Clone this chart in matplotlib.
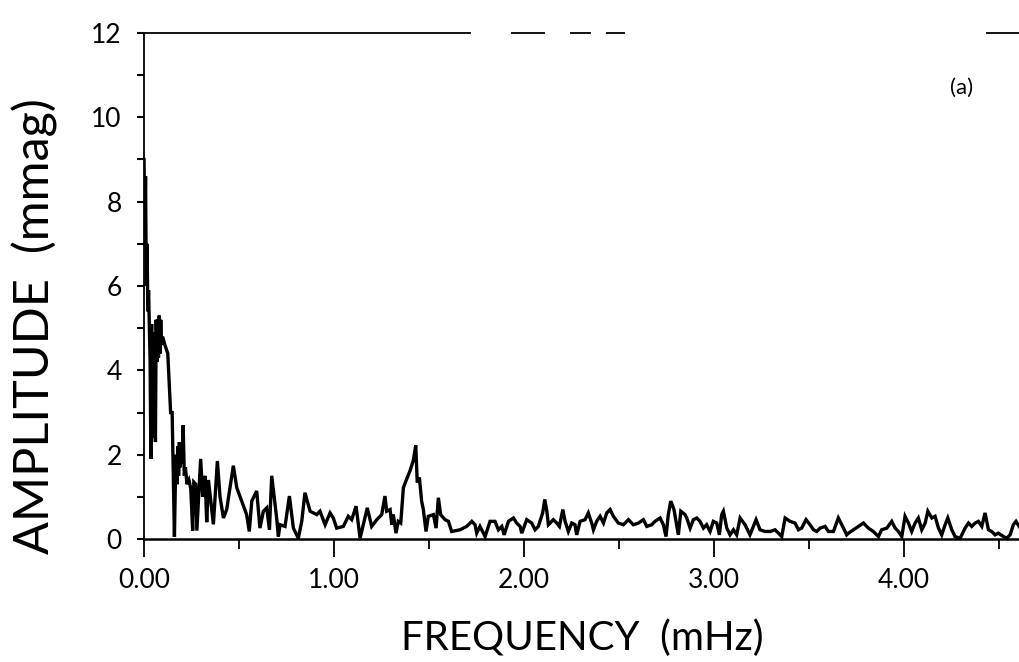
import matplotlib
matplotlib.use("Agg")
import matplotlib.pyplot as plt
from matplotlib.ticker import MultipleLocator, FormatStrFormatter

# Amplitude spectrum: frequency (mHz) and amplitude (mmag) of the trace
freq = [
    0.000, 0.004, 0.008, 0.012, 0.016, 0.020, 0.024, 0.028, 0.032, 0.036,
    0.040, 0.044, 0.048, 0.052, 0.056, 0.060, 0.064, 0.068, 0.072, 0.076,
    0.080, 0.084, 0.088, 0.092, 0.098, 0.110, 0.125, 0.140, 0.148, 0.160,
    0.166, 0.170, 0.174, 0.178, 0.182, 0.186, 0.190, 0.196, 0.202, 0.206,
    0.212, 0.218, 0.226, 0.236, 0.246, 0.256, 0.262, 0.272, 0.278, 0.298,
    0.309, 0.321, 0.330, 0.339, 0.365, 0.386, 0.400, 0.418, 0.435, 0.470,
    0.488, 0.514, 0.540, 0.554, 0.567, 0.593, 0.610, 0.628, 0.646, 0.660,
    0.672, 0.698, 0.707, 0.716, 0.742, 0.765, 0.786, 0.812, 0.830, 0.847,
    0.874, 0.909, 0.926, 0.953, 0.979, 0.996, 1.014, 1.049, 1.075, 1.093,
    1.116, 1.137, 1.154, 1.175, 1.198, 1.225, 1.251, 1.268, 1.277, 1.295,
    1.304, 1.312, 1.326, 1.338, 1.351, 1.365, 1.382, 1.400, 1.417, 1.430,
    1.438, 1.449, 1.461, 1.470, 1.484, 1.496, 1.523, 1.537, 1.549, 1.561,
    1.584, 1.602, 1.619, 1.663, 1.698, 1.725, 1.742, 1.751, 1.768, 1.795,
    1.821, 1.847, 1.865, 1.883, 1.895, 1.918, 1.944, 1.961, 1.979, 1.988,
    2.014, 2.040, 2.058, 2.075, 2.098, 2.109, 2.120, 2.128, 2.137, 2.154,
    2.172, 2.186, 2.204, 2.216, 2.233, 2.251, 2.268, 2.277, 2.295, 2.321,
    2.338, 2.356, 2.365, 2.382, 2.400, 2.418, 2.435, 2.453, 2.470, 2.496,
    2.523, 2.549, 2.575, 2.602, 2.628, 2.646, 2.672, 2.689, 2.716, 2.733,
    2.747, 2.759, 2.772, 2.789, 2.804, 2.812, 2.825, 2.847, 2.856, 2.874,
    2.891, 2.909, 2.926, 2.944, 2.961, 2.979, 2.996, 3.014, 3.028, 3.040,
    3.049, 3.067, 3.084, 3.102, 3.119, 3.137, 3.163, 3.189, 3.221, 3.242,
    3.268, 3.295, 3.321, 3.347, 3.356, 3.374, 3.400, 3.426, 3.444, 3.461,
    3.484, 3.505, 3.523, 3.540, 3.558, 3.584, 3.602, 3.628, 3.654, 3.681,
    3.698, 3.707, 3.733, 3.759, 3.786, 3.812, 3.838, 3.865, 3.882, 3.909,
    3.935, 3.953, 3.970, 3.988, 4.005, 4.023, 4.040, 4.058, 4.075, 4.093,
    4.111, 4.125, 4.146, 4.163, 4.181, 4.198, 4.216, 4.230, 4.251, 4.268,
    4.295, 4.321, 4.339, 4.356, 4.374, 4.391, 4.409, 4.426, 4.444, 4.461,
    4.479, 4.496, 4.523, 4.540, 4.558, 4.575, 4.589, 4.611,
]
amplitude = [
    9.00, 7.20, 8.60, 6.00, 7.00, 5.40, 5.90, 5.10, 4.20, 1.90,
    5.10, 2.40, 4.90, 2.80, 4.20, 2.30, 5.20, 4.20, 5.20, 4.30,
    5.30, 4.40, 5.20, 4.60, 4.80, 4.60, 4.40, 3.00, 3.00, 0.05,
    1.60, 2.00, 1.30, 2.20, 1.50, 2.30, 1.70, 2.30, 1.80, 2.70,
    1.50, 1.70, 1.30, 1.40, 1.20, 0.20, 1.35, 1.30, 0.20, 1.90,
    1.00, 1.50, 0.40, 1.40, 0.35, 1.85, 1.00, 0.50, 0.70, 1.74,
    1.22, 0.90, 0.58, 0.18, 0.90, 1.14, 0.26, 0.66, 0.74, 0.22,
    1.50, 0.50, 0.06, 0.34, 0.30, 1.02, 0.26, 0.02, 0.42, 1.10,
    0.66, 0.58, 0.66, 0.34, 0.62, 0.50, 0.26, 0.30, 0.54, 0.46,
    0.78, 0.02, 0.34, 0.74, 0.30, 0.46, 0.58, 1.02, 0.66, 0.70,
    0.34, 0.58, 0.14, 0.42, 0.38, 1.22, 1.42, 1.62, 1.86, 2.22,
    1.34, 1.46, 0.90, 0.70, 0.18, 0.54, 0.58, 0.26, 0.98, 0.58,
    0.46, 0.42, 0.18, 0.22, 0.30, 0.42, 0.34, 0.14, 0.30, 0.06,
    0.42, 0.42, 0.22, 0.30, 0.10, 0.42, 0.50, 0.38, 0.30, 0.14,
    0.46, 0.38, 0.22, 0.30, 0.62, 0.94, 0.66, 0.34, 0.38, 0.46,
    0.38, 0.30, 0.70, 0.42, 0.18, 0.38, 0.34, 0.10, 0.42, 0.46,
    0.62, 0.38, 0.22, 0.42, 0.54, 0.38, 0.62, 0.70, 0.54, 0.38,
    0.34, 0.46, 0.34, 0.38, 0.46, 0.30, 0.34, 0.42, 0.50, 0.34,
    0.06, 0.58, 0.90, 0.70, 0.30, 0.10, 0.66, 0.58, 0.50, 0.26,
    0.46, 0.50, 0.42, 0.26, 0.34, 0.18, 0.42, 0.38, 0.10, 0.58,
    0.66, 0.26, 0.10, 0.22, 0.10, 0.50, 0.34, 0.10, 0.46, 0.22,
    0.18, 0.18, 0.22, 0.10, 0.06, 0.50, 0.42, 0.38, 0.22, 0.26,
    0.46, 0.34, 0.22, 0.18, 0.26, 0.30, 0.18, 0.18, 0.50, 0.26,
    0.10, 0.14, 0.22, 0.30, 0.38, 0.26, 0.18, 0.06, 0.22, 0.26,
    0.42, 0.26, 0.18, 0.06, 0.54, 0.38, 0.18, 0.38, 0.50, 0.22,
    0.38, 0.66, 0.50, 0.54, 0.26, 0.10, 0.34, 0.50, 0.22, 0.06,
    0.02, 0.26, 0.38, 0.30, 0.38, 0.42, 0.30, 0.62, 0.22, 0.18,
    0.10, 0.14, 0.06, 0.02, 0.10, 0.34, 0.42, 0.26,
]

y_ticks = [0, 2, 4, 6, 8, 10, 12]
x_ticks = [0.0, 1.0, 2.0, 3.0, 4.0]

# pieces of the broken upper frame line (mHz)
frame_starts = [0.0, 1.93, 2.24, 2.43, 4.43]
frame_ends = [1.72, 2.11, 2.35, 2.53, 4.61]

plt.rcParams['font.family'] = ['Lato', 'DejaVu Sans']
plt.rcParams['font.weight'] = 'normal'

fig = plt.figure(figsize=(10.2, 6.62), dpi=100)
ax = fig.add_axes([0.1412, 0.1857, 0.8588, 0.7645])

ax.plot(freq, amplitude, color='black', lw=2.4, solid_joinstyle='miter')

ax.set_xlim(0, 4.61)
ax.set_ylim(0, 12)

ax.set_xticks(x_ticks)
ax.set_yticks(y_ticks)
ax.xaxis.set_minor_locator(MultipleLocator(0.5))
ax.yaxis.set_minor_locator(MultipleLocator(1))
ax.xaxis.set_major_formatter(FormatStrFormatter('%.2f'))

ax.tick_params(axis='x', which='major', direction='out', length=13, width=1.3,
               pad=8, labelsize=19)
ax.tick_params(axis='x', which='minor', direction='out', length=7, width=1.3)
ax.tick_params(axis='y', which='both', direction='out', length=5, width=1.5,
               pad=11, labelsize=19)

for side in ('top', 'right'):
    ax.spines[side].set_visible(False)
ax.spines['left'].set_linewidth(1.3)
ax.spines['bottom'].set_linewidth(1.8)

ax.hlines([12] * len(frame_starts), frame_starts, frame_ends,
          color='black', lw=1.3, clip_on=False)

ax.set_xlabel('FREQUENCY  (mHz)', fontsize=29)
ax.xaxis.set_label_coords(0.50, -0.158)
ax.set_ylabel('AMPLITUDE  (mmag)', fontsize=35)
ax.yaxis.set_label_coords(-0.098, 0.42)

ax.text(4.3, 10.7, '(a)', fontsize=16, ha='center', va='center')

fig.savefig('out.png', dpi=100)
